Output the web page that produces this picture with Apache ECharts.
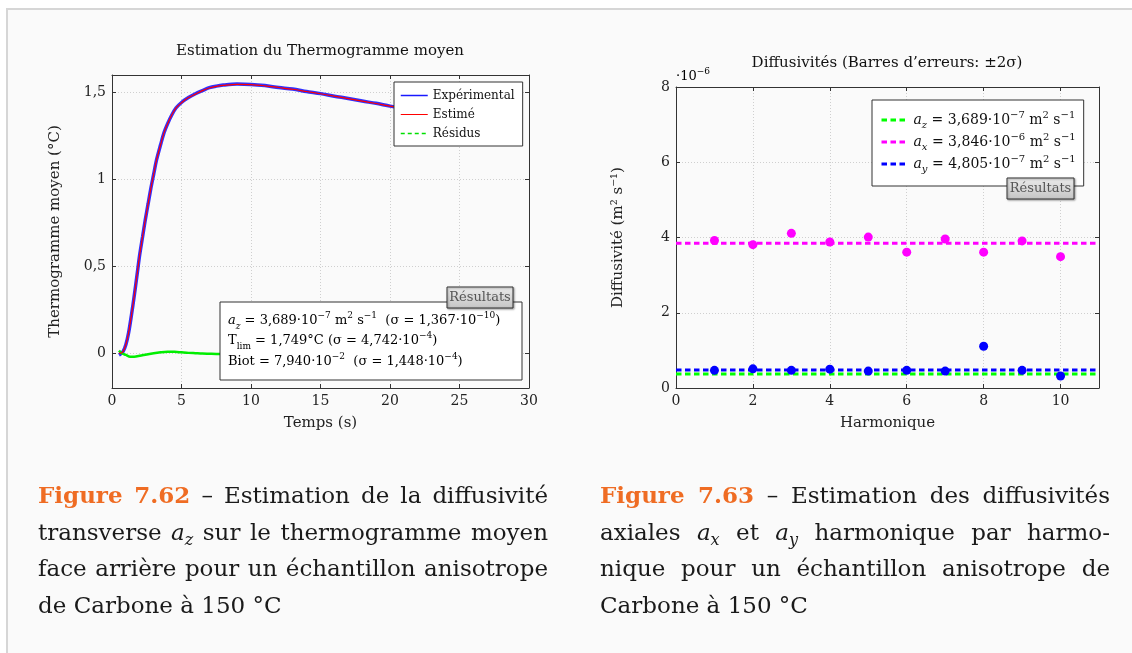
<!DOCTYPE html>
<html>
<head>
<meta charset="utf-8">
<script src="https://cdn.jsdelivr.net/npm/echarts@6/dist/echarts.min.js"></script>
<style>
  html, body { margin:0; padding:0; background:#ffffff; width:1132px; height:653px; overflow:hidden; }
  #frame { position:absolute; left:6px; top:8px; width:1140px; height:660px; background:#fafafa;
           border-top:2px solid #d6d6d6; border-left:2px solid #d6d6d6; }
  #chart { position:absolute; left:0; top:0; width:1132px; height:653px; }
  .cap { position:absolute; width:510px; font-family:'DejaVu Serif', serif; font-size:23px; color:#1a1a1a; }
  .cap .ln { height:36.7px; line-height:36.7px; white-space:nowrap; text-align:justify; text-align-last:justify; }
  .cap .ln.last { text-align:left; text-align-last:left; }
  .fig { color:#ef6c23; font-weight:bold; }
  .cap sub { font-size:0.7em; vertical-align:-0.3em; line-height:0; }
</style>
</head>
<body>
<div id="frame"></div>
<div id="chart"></div>
<div class="cap" style="left:38px; top:477px;">
  <div class="ln"><span class="fig">Figure 7.62</span> – Estimation de la diffusivité</div>
  <div class="ln">transverse <i>a<sub>z</sub></i> sur le thermogramme moyen</div>
  <div class="ln">face arrière pour un échantillon anisotrope</div>
  <div class="ln last">de Carbone à 150 °C</div>
</div>
<div class="cap" style="left:600px; top:477px;">
  <div class="ln"><span class="fig">Figure 7.63</span> – Estimation des diffusivités</div>
  <div class="ln">axiales <i>a<sub>x</sub></i> et <i>a<sub>y</sub></i> harmonique par harmo-</div>
  <div class="ln">nique pour un échantillon anisotrope de</div>
  <div class="ln last">Carbone à 150 °C</div>
</div>
<script>
// ---- Left chart data (time in s, temperature in °C) ----
const tTime = [0.5,0.6,0.8,1.0,1.2,1.4,1.6,1.8,2.0,2.2,2.4,2.6,2.8,3.0,3.2,3.5,3.75,4.0,4.3,4.6,5.0,5.5,6.0,6.5,7.0,7.5,8.0,9.0,10,11,12,13,14,15,16,17,18,19,20,21,22,24,26,28];
const estime = [0.0,0.0,0.01,0.05,0.12,0.22,0.33,0.45,0.57,0.67,0.77,0.86,0.95,1.03,1.11,1.20,1.27,1.32,1.37,1.41,1.44,1.47,1.49,1.51,1.525,1.535,1.54,1.546,1.545,1.538,1.528,1.518,1.505,1.492,1.478,1.464,1.45,1.436,1.421,1.407,1.393,1.365,1.338,1.312];
const experimental = [-0.01,-0.005,0.01,0.05,0.12,0.22,0.33,0.45,0.57,0.67,0.77,0.86,0.95,1.03,1.11,1.20,1.27,1.32,1.37,1.41,1.442,1.47,1.492,1.51,1.527,1.536,1.542,1.548,1.546,1.539,1.528,1.519,1.505,1.493,1.478,1.465,1.45,1.437,1.421,1.408,1.393,1.366,1.338,1.313];
const tRes = [0.5,0.7,1.0,1.3,1.6,2.0,2.5,3.0,3.5,4.0,4.5,5.0,5.5,6.0,6.5,7.0,7.5,8.0,10,12,14,16,18,20,22,24,26,28];
const residus = [0.015,0.0,-0.01,-0.02,-0.02,-0.015,-0.007,0.0,0.005,0.008,0.008,0.005,0.002,0.0,-0.002,-0.003,-0.004,-0.004,-0.002,0.0,0.002,0.001,-0.001,0.0,0.001,0.0,-0.001,0.0];
const leftYTicks = [0, 0.5, 1, 1.5];

// ---- Right chart data (diffusivities in 1e-6 m2/s) ----
const harmoniques = [1,2,3,4,5,6,7,8,9,10];
const axValues = [3.92,3.81,4.11,3.88,4.01,3.61,3.96,3.61,3.91,3.49];
const ayValues = [0.47,0.51,0.47,0.50,0.45,0.47,0.45,1.11,0.47,0.32];
const azMean = 0.3689;
const axMean = 3.846;
const ayMean = 0.4805;
const rightXRange = [0, 11];

const FONT = "'DejaVu Serif', serif";
const AX = '#333333';
const zip = (xs, ys) => xs.map((x, i) => [x, ys[i]]);
const comma = v => String(v).replace('.', ',');

function mainAxis(extra) {
  return Object.assign({
    type: 'value',
    axisLine: { show: true, onZero: false, lineStyle: { color: AX, width: 1 } },
    axisTick: { show: true, inside: true, length: 4, lineStyle: { color: AX } },
    axisLabel: { color: '#222', fontFamily: FONT, fontSize: 14, margin: 6 },
    splitLine: { show: true, lineStyle: { color: '#cfcfcf', type: [1, 2], width: 1 } },
    nameTextStyle: { color: '#222', fontFamily: FONT, fontSize: 15 },
    nameLocation: 'middle'
  }, extra);
}
function mirrorAxis(extra) {
  return Object.assign({
    type: 'value',
    axisLine: { show: true, onZero: false, lineStyle: { color: AX, width: 1 } },
    axisTick: { show: true, inside: true, length: 4, lineStyle: { color: AX } },
    axisLabel: { show: false },
    splitLine: { show: false }
  }, extra);
}

function makeRich(fs) {
  const sfs = Math.round(fs * 0.72);
  return {
    n: { fontFamily: FONT, fontSize: fs, color: '#111', lineHeight: 20, verticalAlign: 'middle' },
    i: { fontFamily: FONT, fontSize: fs, fontStyle: 'italic', color: '#111', lineHeight: 20, verticalAlign: 'middle' },
    sub: { fontFamily: FONT, fontSize: sfs, color: '#111', lineHeight: 12, verticalAlign: 'bottom' },
    subi: { fontFamily: FONT, fontSize: sfs, fontStyle: 'italic', color: '#111', lineHeight: 12, verticalAlign: 'bottom' },
    sup: { fontFamily: FONT, fontSize: sfs, color: '#111', lineHeight: 12, verticalAlign: 'top' }
  };
}
const richBox = makeRich(13);
const richLegend = makeRich(14);
const legendLabels = {
  az: '{i|a}{subi|z}{n| = 3,689·10}{sup|−7}{n| m}{sup|2}{n| s}{sup|−1}',
  ax: '{i|a}{subi|x}{n| = 3,846·10}{sup|−6}{n| m}{sup|2}{n| s}{sup|−1}',
  ay: '{i|a}{subi|y}{n| = 4,805·10}{sup|−7}{n| m}{sup|2}{n| s}{sup|−1}'
};

function tag(x, y, w, h) {
  return {
    type: 'group', z: 100,
    children: [
      { type: 'rect', shape: { x: x, y: y, width: w, height: h },
        style: { fill: new echarts.graphic.LinearGradient(0, 0, 0, 1, [{offset:0,color:'#ececec'},{offset:1,color:'#c4c4c4'}]),
                 stroke: '#333', lineWidth: 1, shadowBlur: 2, shadowOffsetX: 1, shadowOffsetY: 1, shadowColor: 'rgba(0,0,0,0.35)' }, z: 100 },
      { type: 'text', x: x + w / 2, y: y + h / 2, z: 101,
        style: { text: 'Résultats', fill: '#555', font: "13px 'DejaVu Serif', serif", align: 'center', verticalAlign: 'middle' } }
    ]
  };
}

const option = {
  animation: false,
  grid: [
    { left: 112, top: 75, width: 417, height: 313 },
    { left: 676, top: 87, width: 423, height: 301 }
  ],
  xAxis: [
    mainAxis({ gridIndex: 0, position: 'bottom', min: 0, max: 30, interval: 5, name: 'Temps (s)', nameGap: 28 }),
    mirrorAxis({ gridIndex: 0, position: 'top', min: 0, max: 30, interval: 5 }),
    mainAxis({ gridIndex: 1, position: 'bottom', min: rightXRange[0], max: rightXRange[1], interval: 2, name: 'Harmonique', nameGap: 28,
               axisLabel: { color: '#222', fontFamily: FONT, fontSize: 14, margin: 6, formatter: v => (v === 11 ? '' : v) } }),
    mirrorAxis({ gridIndex: 1, position: 'top', min: rightXRange[0], max: rightXRange[1], interval: 2 })
  ],
  yAxis: [
    mainAxis({ gridIndex: 0, position: 'left', min: -0.2, max: 1.6, name: 'Thermogramme moyen (°C)', nameGap: 49,
               axisTick: { show: true, inside: true, length: 4, lineStyle: { color: AX }, customValues: leftYTicks },
               axisLabel: { color: '#222', fontFamily: FONT, fontSize: 14, margin: 6, customValues: leftYTicks, formatter: comma } }),
    mirrorAxis({ gridIndex: 0, position: 'right', min: -0.2, max: 1.6,
               axisTick: { show: true, inside: true, length: 4, lineStyle: { color: AX }, customValues: leftYTicks } }),
    mainAxis({ gridIndex: 1, position: 'left', min: 0, max: 8, interval: 2, name: 'Diffusivité (m² s⁻¹)', nameGap: 50 }),
    mirrorAxis({ gridIndex: 1, position: 'right', min: 0, max: 8, interval: 2 })
  ],
  legend: [
    {
      data: [
        { name: 'Expérimental', lineStyle: { color: '#0000ff', width: 1.5 } },
        { name: 'Estimé', lineStyle: { color: '#ff0000', width: 1 } },
        { name: 'Résidus', lineStyle: { color: '#00e000', width: 1.5, type: [4, 3] } }
      ],
      orient: 'vertical', left: 394, top: 82, selectedMode: false,
      backgroundColor: '#ffffff', borderColor: AX, borderWidth: 1, borderRadius: 0,
      padding: [7, 8, 6, 6], itemWidth: 27, itemHeight: 10, itemGap: 6,
      itemStyle: { opacity: 0 },
      textStyle: { fontFamily: FONT, fontSize: 12, color: '#111', lineHeight: 13 }
    },
    {
      data: [
        { name: 'az', lineStyle: { color: '#00ff00', width: 3, type: [5.5, 3.5] } },
        { name: 'ax', lineStyle: { color: '#ff00ff', width: 3, type: [5.5, 3.5] } },
        { name: 'ay', lineStyle: { color: '#0000ff', width: 3, type: [5.5, 3.5] } }
      ],
      orient: 'vertical', left: 872, top: 100, selectedMode: false,
      backgroundColor: '#ffffff', borderColor: AX, borderWidth: 1, borderRadius: 0,
      padding: [10, 8, 12, 8], itemWidth: 27, itemHeight: 10, itemGap: 2,
      itemStyle: { opacity: 0 },
      formatter: name => legendLabels[name],
      textStyle: { fontFamily: FONT, fontSize: 14, color: '#111', lineHeight: 20, rich: richLegend }
    }
  ],
  series: [
    { name: 'Expérimental', type: 'line', xAxisIndex: 0, yAxisIndex: 0, data: zip(tTime, experimental),
      symbol: 'none', smooth: 0.3, lineStyle: { color: '#1a1aff', width: 3.5, opacity: 0.9 }, itemStyle: { color: '#0000ff' }, z: 2 },
    { name: 'Estimé', type: 'line', xAxisIndex: 0, yAxisIndex: 0, data: zip(tTime, estime),
      symbol: 'none', smooth: 0.3, lineStyle: { color: '#ff0000', width: 1.2 }, itemStyle: { color: '#ff0000' }, z: 3 },
    { name: 'Résidus', type: 'line', xAxisIndex: 0, yAxisIndex: 0, data: zip(tRes, residus),
      symbol: 'none', smooth: 0.3, lineStyle: { color: '#00ee00', width: 2.5 }, itemStyle: { color: '#00ee00' }, z: 2 },

    { name: 'az', type: 'line', xAxisIndex: 2, yAxisIndex: 2, data: rightXRange.map(x => [x, azMean]),
      symbol: 'none', lineStyle: { color: '#00ff00', width: 3, type: [5.5, 3.5] }, itemStyle: { color: '#00ff00' }, z: 2 },
    { name: 'ax', type: 'line', xAxisIndex: 2, yAxisIndex: 2, data: rightXRange.map(x => [x, axMean]),
      symbol: 'none', lineStyle: { color: '#ff00ff', width: 3, type: [5.5, 3.5] }, itemStyle: { color: '#ff00ff' }, z: 2 },
    { name: 'ay', type: 'line', xAxisIndex: 2, yAxisIndex: 2, data: rightXRange.map(x => [x, ayMean]),
      symbol: 'none', lineStyle: { color: '#0000ff', width: 3, type: [5.5, 3.5] }, itemStyle: { color: '#0000ff' }, z: 2 },
    { name: 'ax points', type: 'scatter', xAxisIndex: 2, yAxisIndex: 2, data: zip(harmoniques, axValues),
      symbol: 'circle', symbolSize: 9, itemStyle: { color: '#ff00ff', opacity: 1 }, z: 3 },
    { name: 'ay points', type: 'scatter', xAxisIndex: 2, yAxisIndex: 2, data: zip(harmoniques, ayValues),
      symbol: 'circle', symbolSize: 9, itemStyle: { color: '#0000ff', opacity: 1 }, z: 3 }
  ],
  graphic: [
    { type: 'text', x: 320, y: 51, z: 50,
      style: { text: 'Estimation du Thermogramme moyen', fill: '#111', font: "15px 'DejaVu Serif', serif", align: 'center', verticalAlign: 'middle' } },
    { type: 'text', x: 887, y: 63, z: 50,
      style: { text: 'Diffusivités (Barres d\u2019erreurs: ±2σ)', fill: '#111', font: "15px 'DejaVu Serif', serif", align: 'center', verticalAlign: 'middle' } },
    { type: 'text', x: 676, y: 77, z: 50,
      style: { text: '{n|·10}{sup|−6}', rich: richBox, verticalAlign: 'middle' } },
    { type: 'rect', shape: { x: 220, y: 302, width: 302, height: 78 }, z: 90,
      style: { fill: '#ffffff', stroke: AX, lineWidth: 1 } },
    { type: 'text', x: 228, y: 321, z: 91,
      style: { text: '{i|a}{subi|z}{n| = 3,689·10}{sup|−7}{n| m}{sup|2}{n| s}{sup|−1}{n|  (σ = 1,367·10}{sup|−10}{n|)}', rich: richBox, verticalAlign: 'middle' } },
    { type: 'text', x: 228, y: 341, z: 91,
      style: { text: '{n|T}{sub|lim}{n| = 1,749°C (σ = 4,742·10}{sup|−4}{n|)}', rich: richBox, verticalAlign: 'middle' } },
    { type: 'text', x: 228, y: 362, z: 91,
      style: { text: '{n|Biot = 7,940·10}{sup|−2}{n|  (σ = 1,448·10}{sup|−4}{n|)}', rich: richBox, verticalAlign: 'middle' } },
    tag(447, 287, 66, 21),
    tag(1007, 178, 67, 21)
  ]
};

const chart = echarts.init(document.getElementById('chart'), null, { renderer: 'canvas' });
chart.setOption(option);
</script>
</body>
</html>
